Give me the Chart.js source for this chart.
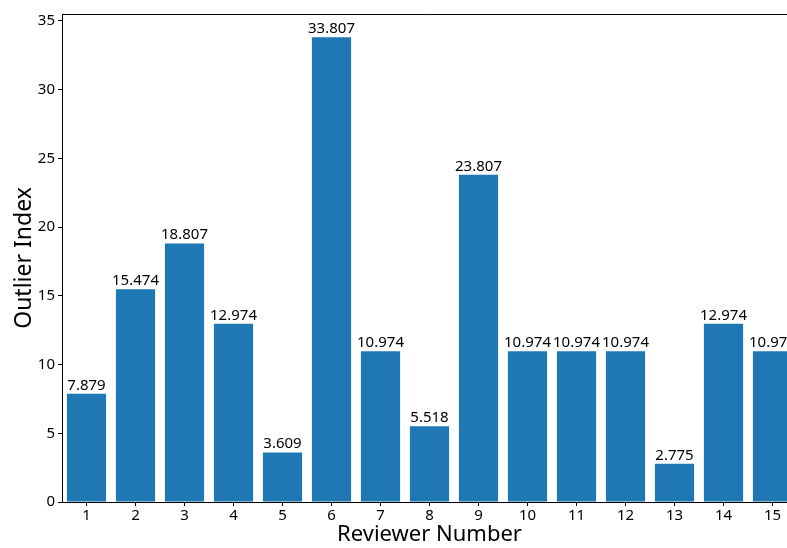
<!DOCTYPE html>
<html>
<head>
<meta charset="utf-8">
<script src="https://cdn.jsdelivr.net/npm/chart.js@4/dist/chart.umd.min.js"></script>
<style>
  html, body { margin: 0; padding: 0; background: #fff; overflow: hidden; }
  #wrap { width: 787px; height: 548px; overflow: hidden; }
</style>
</head>
<body>
<div id="wrap"><canvas id="chart" width="797" height="548"></canvas></div>
<script>
var reviewers = ['1', '2', '3', '4', '5', '6', '7', '8', '9', '10', '11', '12', '13', '14', '15'];
var outlierIndex = [7.879, 15.474, 18.807, 12.974, 3.609, 33.807, 10.974, 5.518, 23.807, 10.974, 10.974, 10.974, 2.775, 12.974, 10.974];
var yTicks = [0, 5, 10, 15, 20, 25, 30, 35];

var fontFamily = "'Noto Sans', 'Open Sans', sans-serif";

// value text above each bar
var barLabels = {
    id: 'barLabels',
    afterDatasetsDraw: function (chart) {
        var ctx = chart.ctx;
        var meta = chart.getDatasetMeta(0);
        ctx.save();
        ctx.font = '15px ' + fontFamily;
        ctx.fillStyle = '#000';
        ctx.textAlign = 'center';
        ctx.textBaseline = 'alphabetic';
        meta.data.forEach(function (bar, i) {
            ctx.fillText(outlierIndex[i].toFixed(3), bar.x, bar.y - 4);
        });
        ctx.restore();
    }
};

// top spine like matplotlib
var topSpine = {
    id: 'topSpine',
    afterDraw: function (chart) {
        var a = chart.chartArea;
        var ctx = chart.ctx;
        ctx.save();
        ctx.strokeStyle = '#000';
        ctx.lineWidth = 1;
        ctx.beginPath();
        ctx.moveTo(a.left, a.top + 0.5);
        ctx.lineTo(a.right, a.top + 0.5);
        ctx.stroke();
        ctx.restore();
    }
};

var ctx = document.getElementById('chart').getContext('2d');

new Chart(ctx, {
    type: 'bar',
    data: {
        labels: reviewers,
        datasets: [{
            data: outlierIndex,
            backgroundColor: '#1f77b4',
            borderWidth: 0,
            barPercentage: 0.8,
            categoryPercentage: 1.0
        }]
    },
    options: {
        responsive: false,
        animation: false,
        devicePixelRatio: 1,
        layout: { padding: { top: 14, right: 0, left: 0, bottom: 0 } },
        plugins: {
            legend: { display: false },
            tooltip: { enabled: false }
        },
        scales: {
            x: {
                offset: true,
                grid: {
                    display: true,
                    drawOnChartArea: false,
                    drawTicks: true,
                    tickLength: 4,
                    color: '#000',
                    offset: false
                },
                border: { display: true, color: '#000', width: 1 },
                ticks: {
                    color: '#000',
                    padding: 1,
                    maxRotation: 0,
                    font: { family: fontFamily, size: 15 }
                },
                title: {
                    display: true,
                    text: 'Reviewer Number',
                    color: '#000',
                    padding: { top: 0, bottom: 0 },
                    font: { family: fontFamily, size: 22 }
                },
                afterFit: function (scale) { scale.height = 46; }
            },
            y: {
                min: 0,
                max: 35.5,
                afterBuildTicks: function (scale) {
                    scale.ticks = yTicks.map(function (v) { return { value: v }; });
                },
                grid: {
                    display: true,
                    drawOnChartArea: false,
                    drawTicks: true,
                    tickLength: 4,
                    color: '#000'
                },
                border: { display: true, color: '#000', width: 1 },
                ticks: {
                    color: '#000',
                    padding: 3,
                    font: { family: fontFamily, size: 15 }
                },
                title: {
                    display: true,
                    text: 'Outlier Index',
                    color: '#000',
                    padding: { top: 11, bottom: 0 },
                    font: { family: fontFamily, size: 23 }
                },
                afterFit: function (scale) { scale.width = 62; }
            }
        }
    },
    plugins: [barLabels, topSpine]
});
</script>
</body>
</html>
